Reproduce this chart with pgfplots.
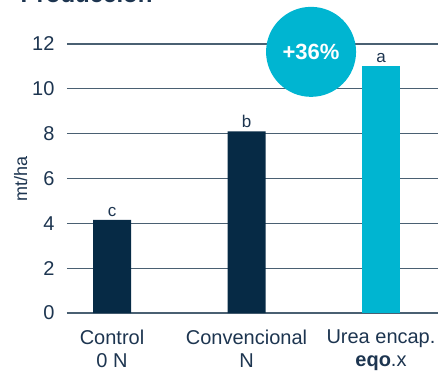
\documentclass[border=0pt]{standalone}
\usepackage{pgfplots}
\pgfplotsset{compat=1.18}
\usepackage{fontspec}
\setmainfont{Liberation Sans}
\definecolor{navy}{HTML}{062A45}
\definecolor{cyanb}{HTML}{00B5D1}
\definecolor{gridc}{HTML}{4A6072}
\definecolor{txt}{HTML}{1D3550}
\begin{document}
\begin{tikzpicture}[x=1pt,y=1pt]
\begin{axis}[
  name=ax,
  scale only axis,
  width=371pt, height=269pt,
  xmin=-0.335, xmax=2.424,
  ymin=0, ymax=12,
  ytick={0,2,...,12},
  xtick={0,1,2},
  xticklabels={{Control\\0 N},{Convencional\\N},{Urea encap.\\\textbf{eqo}.x}},
  xticklabel style={align=center, font=\fontsize{20}{23}\selectfont, text=txt, yshift=-13pt},
  yticklabel style={font=\fontsize{20}{23}\selectfont, text=txt, xshift=-9pt},
  /pgf/number format/assume math mode=true,
  ylabel={mt/ha},
  ylabel style={font=\fontsize{18}{22}\selectfont, text=txt},
  axis x line=bottom, axis y line=left,
  x axis line style={draw=gridc, line width=2.5pt, -},
  y axis line style={draw=none},
  major tick length=0pt,
  ymajorgrids,
  grid style={draw=gridc, line width=1.3pt},
  clip=false,
  ybar, bar width=38pt, bar shift=0pt,
  nodes near coords,
  every node near coord/.style={font=\fontsize{17}{20}\selectfont, text=txt},
  ylabel shift=-2pt,
]
\addplot[fill=navy, draw=none, bar shift=0pt, point meta=explicit symbolic] coordinates {(0,4.15) [c] (1,8.1) [b]};
\addplot[fill=cyanb, draw=none, bar shift=0pt, point meta=explicit symbolic] coordinates {(2,11.0) [a]};
\fill[cyanb] (axis cs:1.48,11.65) circle[radius=45pt];
\node[text=white, font=\fontsize{22}{26}\selectfont\bfseries] at (axis cs:1.48,11.65) {+36\%};
\end{axis}
\node[anchor=base west, text=txt, font=\fontsize{24}{28}\selectfont\bfseries] at (-50,311) {Producción};
\pgfresetboundingbox
\path[use as bounding box] (-67,-63) rectangle (373,313);
\end{tikzpicture}
\end{document}
